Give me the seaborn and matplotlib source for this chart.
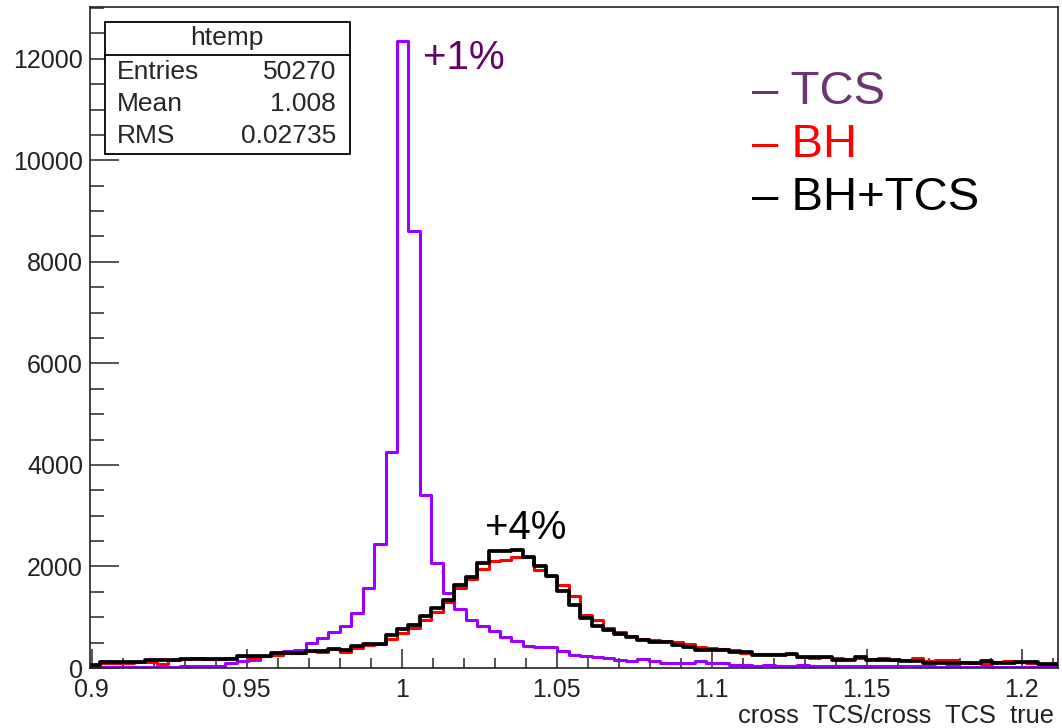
import numpy as np
import pandas as pd
import matplotlib.pyplot as plt
import seaborn as sns
from matplotlib.ticker import MultipleLocator
from matplotlib.patches import Rectangle

# binning of the ROOT histogram
bin_start = 0.8989
bin_width = 0.00369

tcs_counts = [20, 20, 20, 20, 20, 25, 25, 25, 30, 30,
              45, 45, 98, 130, 163, 228, 262, 327, 360, 492,
              590, 700, 832, 1083, 1575, 2447, 4264, 12350, 8600, 3400,
              2070, 1476, 1160, 950, 820, 720, 620, 525, 430, 420,
              410, 330, 262, 228, 215, 197, 163, 130, 177, 130,
              98, 98, 98, 130, 98, 98, 60, 50, 45, 50,
              40, 45, 50, 40, 45, 40, 35, 45, 40, 35,
              30, 35, 30, 30, 25, 30, 25, 25, 30, 25,
              20, 25, 20, 20, 20]

bh_counts = [60, 100, 100, 100, 110, 120, 80, 150, 170, 190,
             183, 183, 190, 228, 220, 228, 262, 300, 290, 330,
             320, 374, 320, 400, 450, 470, 570, 680, 780, 950,
             1100, 1300, 1580, 1760, 1950, 2098, 2132, 2185, 2185, 1935,
             1820, 1640, 1409, 1049, 951, 787, 700, 630, 580, 557,
             540, 504, 480, 410, 394, 380, 346, 300, 281, 281,
             283, 275, 220, 200, 210, 200, 180, 190, 170, 197,
             160, 150, 197, 140, 163, 163, 120, 100, 98, 110,
             130, 110, 98, 80, 80]

bhtcs_counts = [65, 110, 110, 110, 110, 150, 150, 150, 183, 183,
                183, 183, 183, 228, 228, 228, 295, 295, 300, 327,
                327, 374, 360, 439, 478, 478, 655, 768, 852, 1016,
                1181, 1340, 1640, 1791, 2067, 2295, 2295, 2329, 2185, 2000,
                1803, 1508, 1246, 984, 819, 754, 675, 610, 557, 504,
                504, 459, 406, 346, 346, 346, 307, 307, 262, 262,
                262, 275, 216, 216, 216, 163, 163, 216, 150, 150,
                150, 130, 130, 98, 98, 98, 98, 98, 130, 98,
                98, 110, 110, 72, 72]

series_names = ["TCS", "BH", "BH+TCS"]
series_colors = {"TCS": "#9900ff", "BH": "#ff0000", "BH+TCS": "#000000"}
legend_colors = ["#6b356f", "#ff0000", "#000000"]

stats_labels = ["Entries", "Mean", "RMS"]
stats_values = ["50270", "1.008", "0.02735"]

n_bins = len(tcs_counts)
edges = [bin_start + bin_width * k for k in range(n_bins + 1)]
centers = [0.5 * (edges[k] + edges[k + 1]) for k in range(n_bins)]

df = pd.DataFrame({
    "ratio": centers * 3,
    "count": tcs_counts + bh_counts + bhtcs_counts,
    "sample": np.repeat(series_names, n_bins),
})

sns.set_style("white")
plt.rcParams["font.family"] = ["Liberation Sans", "DejaVu Sans"]

W, H = 1062, 728
fig = plt.figure(figsize=(W / 100, H / 100), dpi=100)
ax = fig.add_axes([90 / W, 60 / H, (1058 - 90) / W, (668 - 7) / H])

widths = {"TCS": 2.2, "BH": 2.2, "BH+TCS": 2.7}
for name in series_names:
    sub = df[df["sample"] == name]
    sns.histplot(data=sub, x="ratio", weights="count", bins=edges,
                 element="step", fill=False, color=series_colors[name],
                 linewidth=widths[name], ax=ax)

ax.set_xlim(0.8995, 1.2117)
ax.set_ylim(0, 13020)
ax.set_xlabel("")
ax.set_ylabel("")

ax.xaxis.set_major_locator(MultipleLocator(0.05))
ax.xaxis.set_minor_locator(MultipleLocator(0.01))
ax.yaxis.set_major_locator(MultipleLocator(2000))
ax.yaxis.set_minor_locator(MultipleLocator(500))
ax.set_xticks([0.9, 0.95, 1.0, 1.05, 1.1, 1.15, 1.2])
ax.set_xticklabels(["0.9", "0.95", "1", "1.05", "1.1", "1.15", "1.2"])
ax.tick_params(axis="x", which="major", direction="in", length=14, width=1.1,
               labelsize=18, pad=7, top=False, bottom=True, labelcolor="#222222")
ax.tick_params(axis="x", which="minor", direction="in", length=7.5, width=1.1,
               top=False, bottom=True)
ax.tick_params(axis="y", which="major", direction="in", length=21, width=1.1,
               labelsize=18, pad=5, left=True, right=False, labelcolor="#222222")
ax.tick_params(axis="y", which="minor", direction="in", length=10, width=1.1,
               left=True, right=False)
for sp in ax.spines.values():
    sp.set_color("#222222")
    sp.set_linewidth(1.2)

# stats box
def fx(px):
    return px / W

def fy(py):
    return 1 - py / H

box = Rectangle((fx(105), fy(154)), fx(350) - fx(105), fy(22) - fy(154),
                transform=fig.transFigure, facecolor="white",
                edgecolor="black", linewidth=1.3, zorder=5)
fig.patches.append(box)
fig.add_artist(plt.Line2D([fx(105), fx(350)], [fy(55), fy(55)],
                          transform=fig.transFigure, color="black", lw=1.3, zorder=6))
fig.text(fx(227), fy(38), "htemp", ha="center", va="center", fontsize=19, zorder=7)
for i, (lab, val) in enumerate(zip(stats_labels, stats_values)):
    yy = fy(72 + i * 32)
    fig.text(fx(117), yy, lab, ha="left", va="center", fontsize=19, zorder=7)
    fig.text(fx(336), yy, val, ha="right", va="center", fontsize=19, zorder=7)

# annotations
ax.text(1.0069, 12010, "+1%", color="#660066", fontsize=29, va="center", ha="left")
ax.text(1.0269, 2762, "+4%", color="black", fontsize=29, va="center", ha="left")

# hand-made legend
for i, (name, col) in enumerate(zip(series_names, legend_colors)):
    fig.text(fx(752), fy(92 + i * 53), "\u2013 " + name, color=col,
             fontsize=34, ha="left", va="center")

fig.text(fx(738), fy(716), "cross  TCS/cross  TCS  true", fontsize=18.4,
         ha="left", va="center", color="#222222")

fig.savefig("out.png", dpi=100)
